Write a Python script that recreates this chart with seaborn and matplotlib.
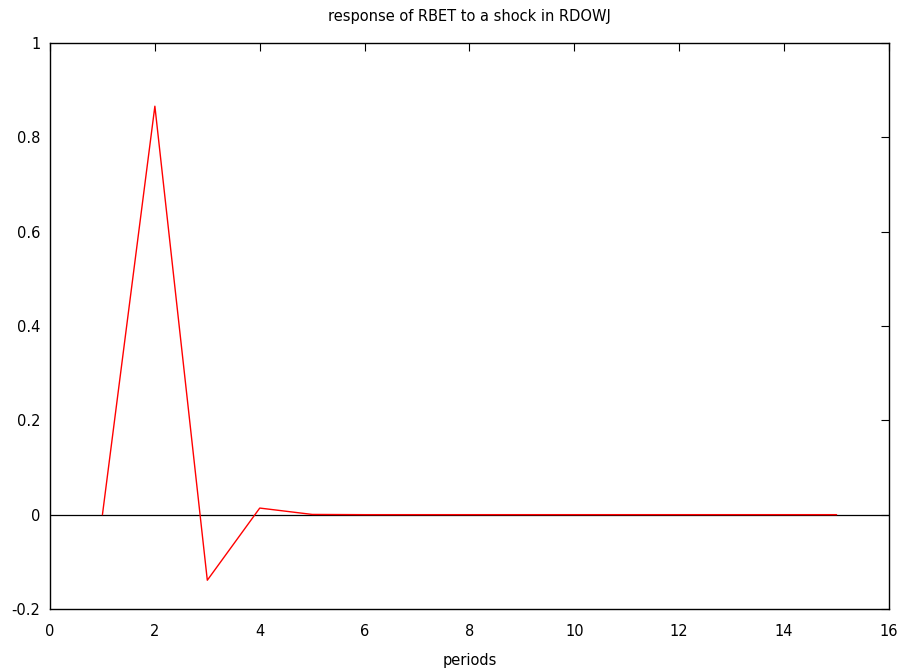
import numpy as np
import pandas as pd
import matplotlib
matplotlib.use("Agg")
import matplotlib.pyplot as plt
import seaborn as sns

# ── Data ───────────────────────────────────────────────────────────────────────
periods  = [1, 2, 3, 4, 5, 6, 7, 8, 9, 10, 11, 12, 13, 14, 15]
response = [0.0, 0.866, -0.139, 0.014, 0.0005, 0.0, 0.0, 0.0, 0.0, 0.0,
            0.0, 0.0, 0.0, 0.0, 0.0]
x_ticks = [0, 2, 4, 6, 8, 10, 12, 14, 16]
y_ticks = [-0.2, 0, 0.2, 0.4, 0.6, 0.8, 1]
y_tick_labels = ["-0.2", "0", "0.2", "0.4", "0.6", "0.8", "1"]

df = pd.DataFrame({"periods": periods, "response": response})

# ── Figure ─────────────────────────────────────────────────────────────────────
sns.set_style("white")
plt.rcParams["font.family"] = ["DejaVu Sans"]
plt.rcParams["text.color"] = "black"

fig = plt.figure(figsize=(9.06, 6.69), dpi=100)
ax = fig.add_axes([50/906, 60/669, 839/906, 566/669])

ax.axhline(0, color="black", linewidth=0.9, zorder=1)
sns.lineplot(data=df, x="periods", y="response", color="red",
             linewidth=1.0, ax=ax, zorder=2)

ax.set_xlim(0, 16)
ax.set_ylim(-0.2, 1)
ax.set_xticks(x_ticks)
ax.set_yticks(y_ticks)
ax.set_yticklabels(y_tick_labels)
ax.tick_params(direction="in", length=6, width=0.8, labelsize=10.5,
               top=True, right=True, labeltop=False, labelright=False,
               colors="black")
ax.tick_params(axis="x", pad=11)
ax.tick_params(axis="y", pad=7)
for s in ax.spines.values():
    s.set_visible(True)
    s.set_color("black")
    s.set_linewidth(1.0)

ax.set_xlabel("periods", fontsize=10.5, labelpad=10, color="black")
ax.set_ylabel("")
ax.set_title("response of RBET to a shock in RDOWJ", fontsize=10.5, pad=16,
             color="black")

fig.savefig("out.png", dpi=100)
